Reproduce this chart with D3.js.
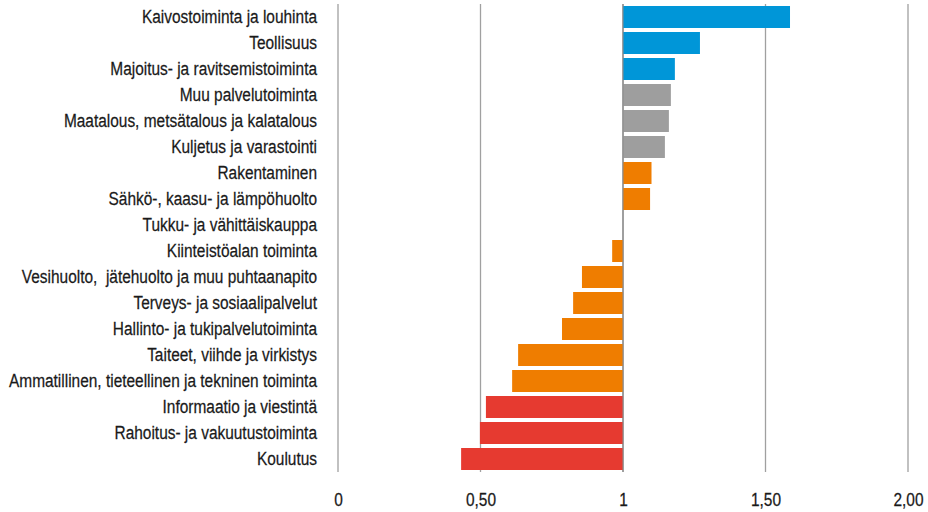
<!DOCTYPE html>
<html>
<head>
<meta charset="utf-8">
<script src="https://cdn.jsdelivr.net/npm/d3@7"></script>
<style>
  html, body { margin: 0; padding: 0; background: #fff; }
  svg { display: block; }
  text { font-family: "Liberation Sans", Arial, sans-serif; fill: #1a1a1a; }
</style>
</head>
<body>
<svg id="chart" width="928" height="512"></svg>
<script>
const categories = [
  "Kaivostoiminta ja louhinta",
  "Teollisuus",
  "Majoitus- ja ravitsemistoiminta",
  "Muu palvelutoiminta",
  "Maatalous, metsätalous ja kalatalous",
  "Kuljetus ja varastointi",
  "Rakentaminen",
  "Sähkö-, kaasu- ja lämpöhuolto",
  "Tukku- ja vähittäiskauppa",
  "Kiinteistöalan toiminta",
  "Vesihuolto,  jätehuolto ja muu puhtaanapito",
  "Terveys- ja sosiaalipalvelut",
  "Hallinto- ja tukipalvelutoiminta",
  "Taiteet, viihde ja virkistys",
  "Ammatillinen, tieteellinen ja tekninen toiminta",
  "Informaatio ja viestintä",
  "Rahoitus- ja vakuutustoiminta",
  "Koulutus"
];
const values = [1.586, 1.270, 1.182, 1.168, 1.161, 1.147, 1.100, 1.095, 1.000, 0.962, 0.856, 0.825, 0.786, 0.632, 0.611, 0.519, 0.498, 0.432];
const groups = ["blue","blue","blue","gray","gray","gray","orange","orange","orange","orange","orange","orange","orange","orange","orange","red","red","red"];
const tickValues = [0, 0.5, 1, 1.5, 2];
const tickLabels = ["0", "0,50", "1", "1,50", "2,00"];
const baseline = 1;

const colorMap = { blue: "#0096D8", gray: "#9E9E9E", orange: "#EF7D00", red: "#E63A30" };
const narrow = 0.822;
const fontSize = 18.8;

const svg = d3.select("#chart");
const x = d3.scaleLinear().domain([0, 2]).range([338, 908]);
const y = d3.scaleBand().domain(categories).range([4, 472]).paddingInner(0.154).paddingOuter(0.077);

// gridlines
svg.append("g").selectAll("line").data(tickValues).join("line")
  .attr("x1", d => x(d)).attr("x2", d => x(d))
  .attr("y1", 4).attr("y2", 472)
  .attr("stroke", d => d === 1 ? "#8a8a8a" : "#a0a0a0")
  .attr("stroke-width", 1.3);

// bars
const data = categories.map((c, i) => ({ c, v: values[i], g: groups[i] }));
svg.append("g").selectAll("rect").data(data).join("rect")
  .attr("x", d => Math.min(x(d.v), x(baseline)))
  .attr("width", d => Math.abs(x(d.v) - x(baseline)))
  .attr("y", d => y(d.c))
  .attr("height", y.bandwidth())
  .attr("fill", d => colorMap[d.g]);

// baseline on top
svg.append("line")
  .attr("x1", x(baseline)).attr("x2", x(baseline))
  .attr("y1", 4).attr("y2", 472)
  .attr("stroke", "#8a8a8a").attr("stroke-width", 1);

// category labels (condensed via horizontal scale)
svg.append("g").selectAll("g").data(categories).join("g")
  .attr("transform", d => `translate(317,${y(d) + y.bandwidth() / 2}) scale(${narrow},1)`)
  .append("text")
  .attr("x", 0)
  .attr("dy", "0.33em")
  .attr("text-anchor", "end")
  .attr("font-size", fontSize + "px")
  .attr("stroke", "#1a1a1a")
  .attr("stroke-width", 0.25)
  .style("white-space", "pre")
  .text(d => d);

// x tick labels
const xAxis = d3.axisBottom(x).tickValues(tickValues).tickFormat((d, i) => tickLabels[i]).tickSize(0).tickPadding(0);
const gx = svg.append("g").attr("transform", "translate(0,493)").call(xAxis);
gx.select(".domain").remove();
gx.selectAll(".tick text")
  .attr("font-size", fontSize + "px")
  .attr("dy", "0.71em")
  .attr("transform", `scale(${narrow},1)`)
  .attr("stroke", "#1a1a1a")
  .attr("stroke-width", 0.25)
  .style("font-family", '"Liberation Sans", Arial, sans-serif')
  .attr("fill", "#1a1a1a");
</script>
</body>
</html>
